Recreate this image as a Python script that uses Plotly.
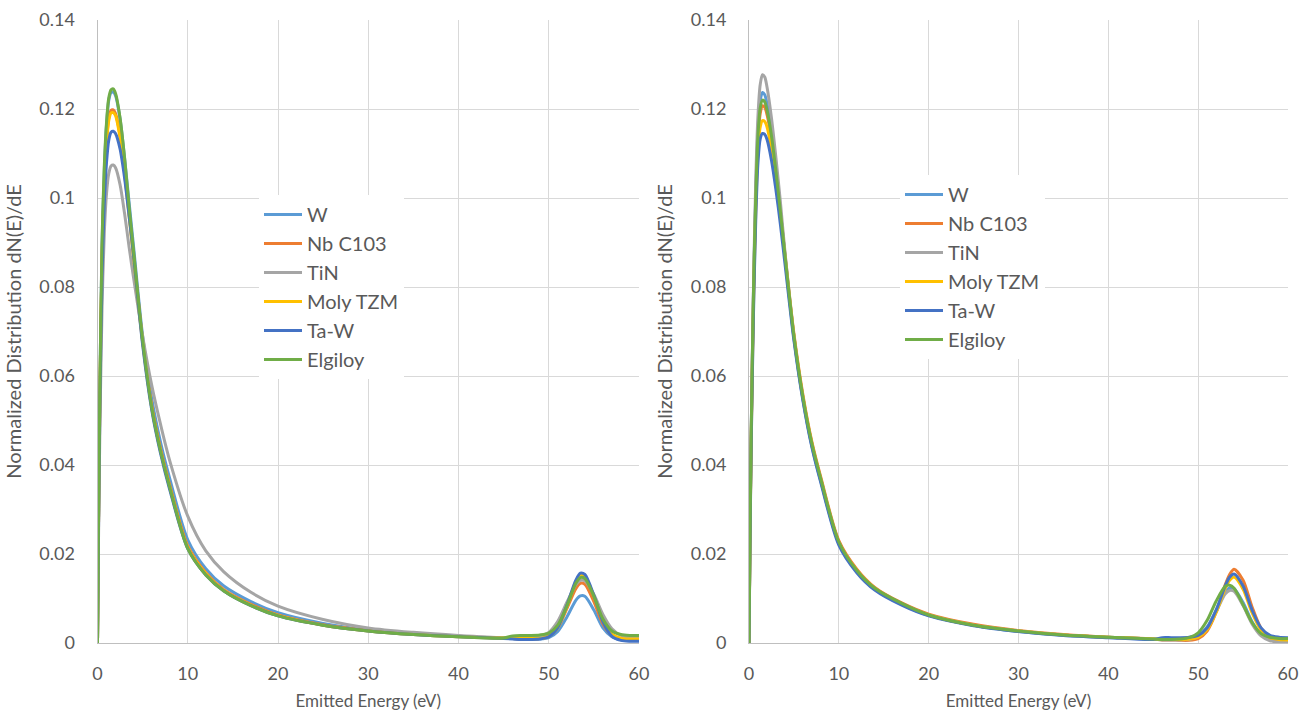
import plotly.graph_objects as go

# Emitted energy sample points (eV)
energy = [0, 0.1, 0.25, 0.5, 0.75, 1, 1.25, 1.5, 1.75, 2, 2.5, 3, 3.5, 4, 5, 6, 7, 8,
          10, 12, 14, 17, 20, 25, 30, 35, 40, 45, 46, 47, 48, 49, 50, 51, 52, 53,
          53.5, 54, 55, 56, 57, 58, 59, 60]

series_names = ["W", "Nb C103", "TiN", "Moly TZM", "Ta-W", "Elgiloy"]
series_colors = ["#5B9BD5", "#ED7D31", "#A5A5A5", "#FFC000", "#4472C4", "#70AD47"]

# ---- Left chart values ----
left_W = [0, 0.025, 0.055, 0.089, 0.106, 0.1165, 0.1220, 0.1237, 0.1238, 0.1230, 0.1178, 0.109, 0.099, 0.089,
          0.069, 0.055, 0.045, 0.037, 0.0232, 0.0167, 0.0128, 0.0093, 0.0068, 0.0044, 0.0029, 0.0021, 0.0015, 0.0011,
          0.0010, 0.0009, 0.0009, 0.0009, 0.0012, 0.0026, 0.0058, 0.0096, 0.0106, 0.0105, 0.0074, 0.0034, 0.0014,
          0.0007, 0.0006, 0.0006]
left_Nb = [0, 0.024, 0.053, 0.086, 0.103, 0.1128, 0.1180, 0.1197, 0.1198, 0.1190, 0.1140, 0.1060, 0.0965, 0.087,
           0.068, 0.0535, 0.0435, 0.0355, 0.0218, 0.0158, 0.0120, 0.0087, 0.0063, 0.0041, 0.0028, 0.0020, 0.0015, 0.0011,
           0.0010, 0.0009, 0.0009, 0.0010, 0.0016, 0.0035, 0.0077, 0.0122, 0.0134, 0.0132, 0.0093, 0.0043, 0.0017,
           0.0009, 0.0007, 0.0007]
left_TiN = [0, 0.021, 0.046, 0.075, 0.092, 0.1010, 0.1055, 0.1072, 0.1074, 0.1068, 0.1030, 0.0965, 0.089, 0.082,
            0.069, 0.058, 0.049, 0.041, 0.0285, 0.0207, 0.0160, 0.0114, 0.0083, 0.0053, 0.0034, 0.0024, 0.0017, 0.0012,
            0.0012, 0.0012, 0.0012, 0.0015, 0.0024, 0.0049, 0.0091, 0.0131, 0.0141, 0.0140, 0.0109, 0.0064, 0.0032,
            0.0017, 0.0013, 0.0012]
left_Moly = [0, 0.024, 0.053, 0.086, 0.1025, 0.1122, 0.1174, 0.1191, 0.1192, 0.1185, 0.1135, 0.1055, 0.096, 0.0865,
             0.0675, 0.053, 0.043, 0.035, 0.0215, 0.0156, 0.0118, 0.0085, 0.0062, 0.0040, 0.0027, 0.0019, 0.0014, 0.0011,
             0.0010, 0.0010, 0.0010, 0.0010, 0.0015, 0.0034, 0.0081, 0.0137, 0.0152, 0.0150, 0.0105, 0.0050, 0.0020,
             0.0011, 0.0009, 0.0009]
left_TaW = [0, 0.023, 0.051, 0.082, 0.0985, 0.108, 0.1130, 0.1148, 0.1150, 0.1145, 0.1110, 0.1045, 0.096, 0.087,
            0.067, 0.0525, 0.0425, 0.0345, 0.0212, 0.0153, 0.0117, 0.0084, 0.0061, 0.0040, 0.0027, 0.0019, 0.0014, 0.0010,
            0.0009, 0.0008, 0.0008, 0.0009, 0.0014, 0.0035, 0.0084, 0.0141, 0.0157, 0.0154, 0.0107, 0.0048, 0.0015,
            0.0006, 0.0004, 0.0004]
left_Elg = [0, 0.025, 0.055, 0.09, 0.107, 0.117, 0.1225, 0.1243, 0.1245, 0.1235, 0.118, 0.109, 0.098, 0.088,
            0.068, 0.053, 0.043, 0.035, 0.0212, 0.0153, 0.0117, 0.0084, 0.0061, 0.0040, 0.0027, 0.0019, 0.0014, 0.0011,
            0.0016, 0.0017, 0.0017, 0.0018, 0.0022, 0.0040, 0.0083, 0.0134, 0.0147, 0.0145, 0.0105, 0.0054, 0.0027,
            0.0019, 0.0017, 0.0017]

# ---- Right chart values ----
right_W = [0, 0.022, 0.048, 0.079, 0.101, 0.1155, 0.1220, 0.1237, 0.1232, 0.1212, 0.1150, 0.1065, 0.097, 0.087,
           0.0685, 0.0548, 0.0443, 0.0363, 0.0224, 0.0161, 0.0121, 0.0087, 0.0062, 0.0040, 0.0026, 0.0018, 0.0013, 0.0009,
           0.0008, 0.0008, 0.0008, 0.0009, 0.0016, 0.0036, 0.0074, 0.0114, 0.0124, 0.0122, 0.0091, 0.0048, 0.0020,
           0.0009, 0.0006, 0.0006]
right_Nb = [0, 0.021, 0.047, 0.078, 0.099, 0.1128, 0.1190, 0.1207, 0.1204, 0.1188, 0.1133, 0.1057, 0.097, 0.0875,
            0.0695, 0.0558, 0.0452, 0.0372, 0.0230, 0.0166, 0.0125, 0.0090, 0.0065, 0.0042, 0.0028, 0.0019, 0.0013, 0.0009,
            0.0007, 0.0007, 0.0006, 0.0006, 0.0010, 0.0027, 0.0069, 0.0130, 0.0154, 0.0166, 0.0141, 0.0081, 0.0033,
            0.0012, 0.0006, 0.0005]
right_TiN = [0, 0.022, 0.048, 0.080, 0.104, 0.1185, 0.1255, 0.1277, 0.1272, 0.1250, 0.1180, 0.109, 0.099, 0.088,
             0.069, 0.055, 0.0445, 0.0365, 0.0225, 0.0162, 0.0122, 0.0088, 0.0063, 0.0040, 0.0027, 0.0018, 0.0013, 0.0009,
             0.0007, 0.0007, 0.0007, 0.0008, 0.0014, 0.0033, 0.0070, 0.0110, 0.0118, 0.0116, 0.0084, 0.0043, 0.0016,
             0.0005, 0.0002, 0.0002]
right_Moly = [0, 0.021, 0.046, 0.076, 0.097, 0.1105, 0.1160, 0.1174, 0.1172, 0.1160, 0.1110, 0.1040, 0.0958, 0.0868,
              0.069, 0.0553, 0.0448, 0.0367, 0.0226, 0.0163, 0.0123, 0.0088, 0.0063, 0.0040, 0.0027, 0.0018, 0.0013, 0.0009,
              0.0008, 0.0008, 0.0008, 0.0009, 0.0013, 0.0030, 0.0069, 0.0122, 0.0141, 0.0148, 0.0121, 0.0068, 0.0029,
              0.0012, 0.0008, 0.0007]
right_TaW = [0, 0.020, 0.045, 0.074, 0.095, 0.1080, 0.1133, 0.1145, 0.1143, 0.1132, 0.1085, 0.1018, 0.094, 0.0853,
             0.068, 0.0545, 0.0440, 0.0360, 0.0220, 0.0158, 0.0119, 0.0085, 0.0061, 0.0039, 0.0026, 0.0017, 0.0012, 0.0008,
             0.0012, 0.0012, 0.0012, 0.0013, 0.0017, 0.0034, 0.0074, 0.0128, 0.0148, 0.0155, 0.0128, 0.0074, 0.0034,
             0.0017, 0.0013, 0.0012]
right_Elg = [0, 0.022, 0.048, 0.079, 0.100, 0.1140, 0.1203, 0.1220, 0.1216, 0.1198, 0.1140, 0.1060, 0.0968, 0.0872,
             0.069, 0.0553, 0.0448, 0.0368, 0.0227, 0.0163, 0.0123, 0.0089, 0.0063, 0.0040, 0.0027, 0.0018, 0.0013, 0.0009,
             0.0008, 0.0008, 0.0009, 0.0012, 0.0023, 0.0051, 0.0094, 0.0127, 0.0130, 0.0123, 0.0086, 0.0046, 0.0021,
             0.0013, 0.0010, 0.0010]

left_series = [left_W, left_Nb, left_TiN, left_Moly, left_TaW, left_Elg]
right_series = [right_W, right_Nb, right_TiN, right_Moly, right_TaW, right_Elg]

x_ticks = [0, 10, 20, 30, 40, 50, 60]
y_ticks = [0, 0.02, 0.04, 0.06, 0.08, 0.1, 0.12, 0.14]

FONT = "Lato, 'Open Sans', sans-serif"
TXT = "#595959"
GRID = "#D9D9D9"

fig = go.Figure()
for name, color, ys in zip(series_names, series_colors, left_series):
    fig.add_trace(go.Scatter(x=energy, y=ys, name=name, mode="lines",
                             line=dict(color=color, width=3, shape="spline", smoothing=0.8),
                             xaxis="x", yaxis="y", legend="legend"))
for name, color, ys in zip(series_names, series_colors, right_series):
    fig.add_trace(go.Scatter(x=energy, y=ys, name=name, mode="lines",
                             line=dict(color=color, width=3, shape="spline", smoothing=0.8),
                             xaxis="x2", yaxis="y2", legend="legend2"))

W, H = 1307, 717
def xdom(a, b):
    return [a / W, b / W]
ydom = [(H - 643) / H, (H - 20) / H]

axis_common = dict(showgrid=True, gridcolor=GRID, gridwidth=1, zeroline=False,
                   showline=True, linecolor="#BFBFBF", linewidth=1, automargin=False,
                   tickfont=dict(family=FONT, size=18, color=TXT), ticks="")
xa = dict(axis_common, range=[0, 60], tickvals=x_ticks, ticklabelstandoff=14,
          title=dict(text="Emitted Energy (eV)", font=dict(family=FONT, size=17, color=TXT), standoff=12))
ya = dict(axis_common, range=[0, 0.14], tickvals=y_ticks, ticklabelstandoff=18,
          title=dict(text="Normalized Distribution dN(E)/dE", font=dict(family=FONT, size=20, color=TXT), standoff=12))

legend_common = dict(bgcolor="white", borderwidth=0, font=dict(family=FONT, size=20, color=TXT),
                     xanchor="left", yanchor="top", tracegroupgap=0, itemwidth=38)

fig.update_layout(
    width=W, height=H,
    margin=dict(l=0, r=0, t=0, b=0),
    paper_bgcolor="white", plot_bgcolor="white",
    showlegend=True,
    xaxis=dict(xa, domain=xdom(97.5, 639), anchor="y"),
    yaxis=dict(ya, domain=ydom, anchor="x"),
    xaxis2=dict(xa, domain=xdom(749, 1288), anchor="y2"),
    yaxis2=dict(ya, domain=ydom, anchor="x2"),
    legend=dict(legend_common, x=259 / W, y=(H - 195) / H),
    legend2=dict(legend_common, x=900 / W, y=(H - 175) / H),
)

fig.write_html("out.html")
